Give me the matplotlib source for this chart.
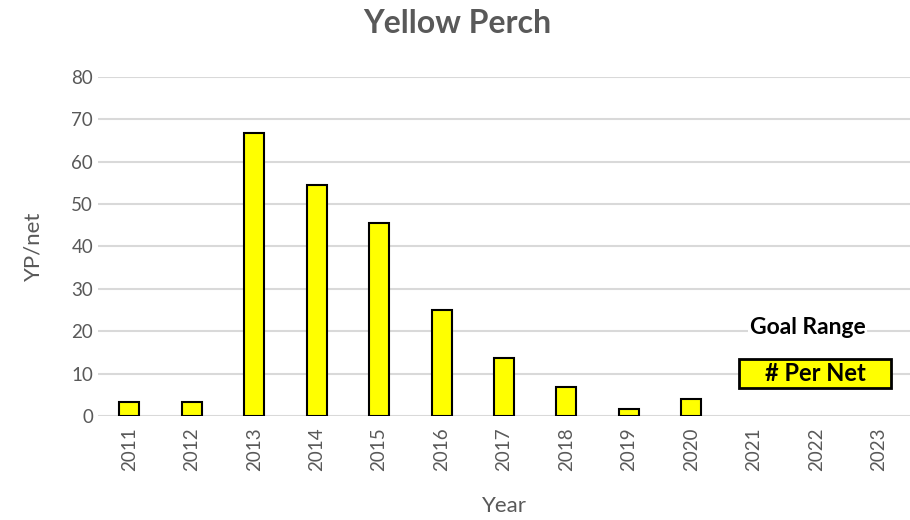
import matplotlib.pyplot as plt
import numpy as np

plt.rcParams["font.family"] = ["Lato", "DejaVu Sans"]

years = ["2011", "2012", "2013", "2014", "2015", "2016", "2017",
         "2018", "2019", "2020", "2021", "2022", "2023"]
yp_per_net = [3.4, 3.4, 66.7, 54.4, 45.5, 25.0, 13.6, 6.8, 1.7, 4.1,
              np.nan, np.nan, np.nan]

fig = plt.figure(figsize=(9.1, 5.2), dpi=100)
ax = fig.add_axes([98 / 910, 0.2, 812 / 910, 0.652])

x = np.arange(len(years))
ax.bar(x, yp_per_net, width=0.32, color="#ffff00", edgecolor="black",
       linewidth=1.5, zorder=3)

ax.set_xlim(-0.5, len(years) - 0.5)
ax.set_ylim(0, 80)
ax.set_yticks(range(0, 81, 10))
ax.set_xticks(x)
ax.set_xticklabels(years, rotation=90)
ax.tick_params(axis="both", length=0, labelsize=13.5, labelcolor="#595959")
ax.tick_params(axis="x", pad=8)
ax.grid(axis="y", color="#d9d9d9", linewidth=1.5, zorder=0)
for s in ax.spines.values():
    s.set_visible(False)

ax.set_ylabel("YP/net", fontsize=16, color="#595959", labelpad=20)
ax.set_xlabel("Year", fontsize=16, color="#595959", labelpad=18)
fig.text(0.503, 0.955, "Yellow Perch", ha="center", va="center",
         fontsize=23, fontweight="bold", color="#595959")

ax.text(0.874, 0.261, "Goal Range", transform=ax.transAxes, ha="center",
        va="center", fontsize=16.5, fontweight="bold", color="black", zorder=5,
        bbox=dict(facecolor="white", edgecolor="none", pad=1))
ax.text(0.883, 0.125, "    # Per Net    ", transform=ax.transAxes, ha="center",
        va="center", fontsize=17, fontweight="bold", color="black", zorder=5,
        bbox=dict(facecolor="#ffff00", edgecolor="black", linewidth=2,
                  boxstyle="square,pad=0.12"))

fig.savefig("out.png", dpi=100)
